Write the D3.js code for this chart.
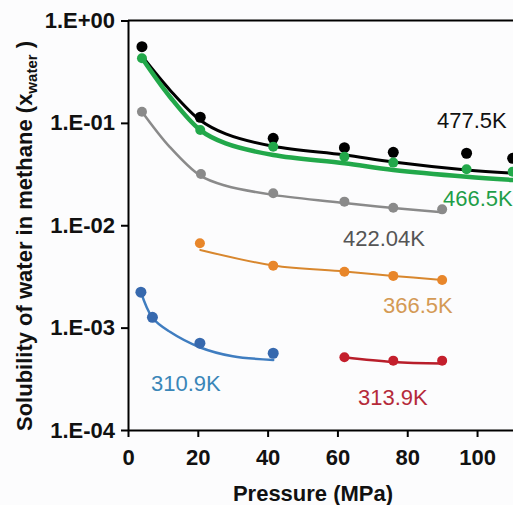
<!DOCTYPE html>
<html>
<head>
<meta charset="utf-8">
<script src="https://cdn.jsdelivr.net/npm/d3@7"></script>
<style>
  body { margin: 0; background: #fcfcfd; }
  svg { display: block; font-family: "Liberation Sans", Arial, sans-serif; }
</style>
</head>
<body>
<svg id="chart" width="513" height="505"></svg>
<script>
// x ticks and y tick labels
var xTicks = [0, 20, 40, 60, 80, 100];
var yTicks = [1, 0.1, 0.01, 0.001, 0.0001];
var yTickLabels = ["1.E+00", "1.E-01", "1.E-02", "1.E-03", "1.E-04"];

// measured points (pressure MPa, mole fraction water)
var pts477 = [[4, 0.555], [20.7, 0.1135], [41.6, 0.0707], [62, 0.0573], [76, 0.0516], [97, 0.0505], [110.2, 0.0451]];
var pts466 = [[4, 0.428], [20.7, 0.0853], [41.6, 0.0586], [62, 0.0468], [76, 0.0409], [97, 0.0352], [110.2, 0.0334]];
var pts422 = [[4, 0.1286], [20.9, 0.0317], [41.6, 0.0205], [62, 0.0170], [76, 0.01485], [90, 0.0143]];
var pts366 = [[20.6, 0.00667], [41.6, 0.00403], [62, 0.00352], [76, 0.0032], [90, 0.00292]];
var pts313 = [[62, 0.000514], [76, 0.000476], [90, 0.000476]];
var pts310 = [[3.7, 0.00222], [7, 0.00126], [20.6, 0.000705], [41.6, 0.000562]];

// model curves
var fit477 = [[4, 0.45], [12, 0.21], [20.7, 0.106], [28, 0.078], [41.6, 0.059], [62, 0.0486], [76, 0.0415], [97, 0.0347], [110.3, 0.0322]];
var fit466 = [[4, 0.43], [12, 0.18], [20.7, 0.085], [28, 0.063], [41.6, 0.0486], [62, 0.0403], [76, 0.0347], [97, 0.0298], [110.3, 0.0277]];
var fit422 = [[4, 0.1286], [12, 0.058], [20.7, 0.0305], [28, 0.0243], [41.6, 0.0198], [62, 0.0165], [76, 0.01476], [90, 0.0134]];
var fit366 = [[20.7, 0.00574], [41.6, 0.00405], [62, 0.00354], [76, 0.0032], [90, 0.00292]];
var fit313 = [[62, 0.000514], [76, 0.000462], [90, 0.000447]];
var fit310 = [[3.7, 0.00222], [7, 0.00125], [12, 0.00091], [20.7, 0.00064], [30, 0.000525], [41.6, 0.000484]];

var series = [
  {name: "477.5K", pts: pts477, fit: fit477, color: "#000000", line: "#000000", lw: 3,   r: 5.5, lx: 437, ly: 128, lc: "#111111"},
  {name: "466.5K", pts: pts466, fit: fit466, color: "#22a84a", line: "#22a84a", lw: 4.5, r: 5,   lx: 443, ly: 206, lc: "#1f9e48"},
  {name: "422.04K", pts: pts422, fit: fit422, color: "#8a8a8a", line: "#8a8a8a", lw: 2.5, r: 5,   lx: 343, ly: 246, lc: "#555555"},
  {name: "366.5K", pts: pts366, fit: fit366, color: "#e8862a", line: "#d8872e", lw: 2,   r: 5,   lx: 383, ly: 313, lc: "#d49a55"},
  {name: "313.9K", pts: pts313, fit: fit313, color: "#c41f2c", line: "#b81e2a", lw: 2.5, r: 5,   lx: 358, ly: 405, lc: "#b52a3a"},
  {name: "310.9K", pts: pts310, fit: fit310, color: "#3769ae", line: "#3f7dc0", lw: 2.5, r: 5.5, lx: 151, ly: 391, lc: "#3a86b8"}
];

var svg = d3.select("#chart");

var x = d3.scaleLinear().domain([0, 110.3]).range([128, 513]);
var y = d3.scaleLog().domain([0.0001, 1]).range([430, 20.5]);

// top frame line
svg.append("line")
  .attr("x1", x(0)).attr("x2", x(110.3))
  .attr("y1", y(1)).attr("y2", y(1))
  .attr("stroke", "#000").attr("stroke-width", 2);

var xAxis = svg.append("g")
  .attr("transform", "translate(0," + y(0.0001) + ")")
  .call(d3.axisBottom(x).tickValues(xTicks).tickSize(7).tickSizeOuter(0).tickPadding(12));

var yAxis = svg.append("g")
  .attr("transform", "translate(" + x(0) + ",0)")
  .call(d3.axisLeft(y).tickValues(yTicks).tickSize(7).tickSizeOuter(0).tickPadding(6)
    .tickFormat(function(d, i) { return yTickLabels[i]; }));

[xAxis, yAxis].forEach(function(g) {
  g.select(".domain").attr("stroke", "#000").attr("stroke-width", 2);
  g.selectAll(".tick line").attr("stroke", "#000").attr("stroke-width", 2);
  g.selectAll(".tick text")
    .attr("fill", "#111")
    .style("font-size", "22px")
    .style("font-weight", "bold")
    .style("font-family", "'Liberation Sans', Arial, sans-serif");
});

var line = d3.line()
  .x(function(d) { return x(d[0]); })
  .y(function(d) { return y(d[1]); })
  .curve(d3.curveCatmullRom.alpha(0.5));

series.forEach(function(s) {
  svg.append("path")
    .attr("d", line(s.fit))
    .attr("fill", "none")
    .attr("stroke", s.line)
    .attr("stroke-width", s.lw)
    .attr("stroke-linecap", "round");
});

series.forEach(function(s) {
  svg.append("g").selectAll("circle")
    .data(s.pts)
    .enter().append("circle")
    .attr("cx", function(d) { return x(d[0]); })
    .attr("cy", function(d) { return y(d[1]); })
    .attr("r", s.r)
    .attr("fill", s.color);

  svg.append("text")
    .attr("x", s.lx).attr("y", s.ly)
    .attr("fill", s.lc)
    .style("font-size", "22px")
    .text(s.name);
});

// axis titles
svg.append("text")
  .attr("x", 313).attr("y", 501)
  .attr("text-anchor", "middle")
  .attr("fill", "#111")
  .style("font-size", "22px")
  .style("font-weight", "bold")
  .text("Pressure (MPa)");

var yt = svg.append("text")
  .attr("transform", "translate(32,236) rotate(-90)")
  .attr("text-anchor", "middle")
  .attr("fill", "#111")
  .style("font-size", "22px")
  .style("font-weight", "bold");
yt.append("tspan").text("Solubility of water in methane (x");
yt.append("tspan").attr("dy", 5).style("font-size", "15px").text("water");
yt.append("tspan").attr("dy", -5).text(" )");
</script>
</body>
</html>
